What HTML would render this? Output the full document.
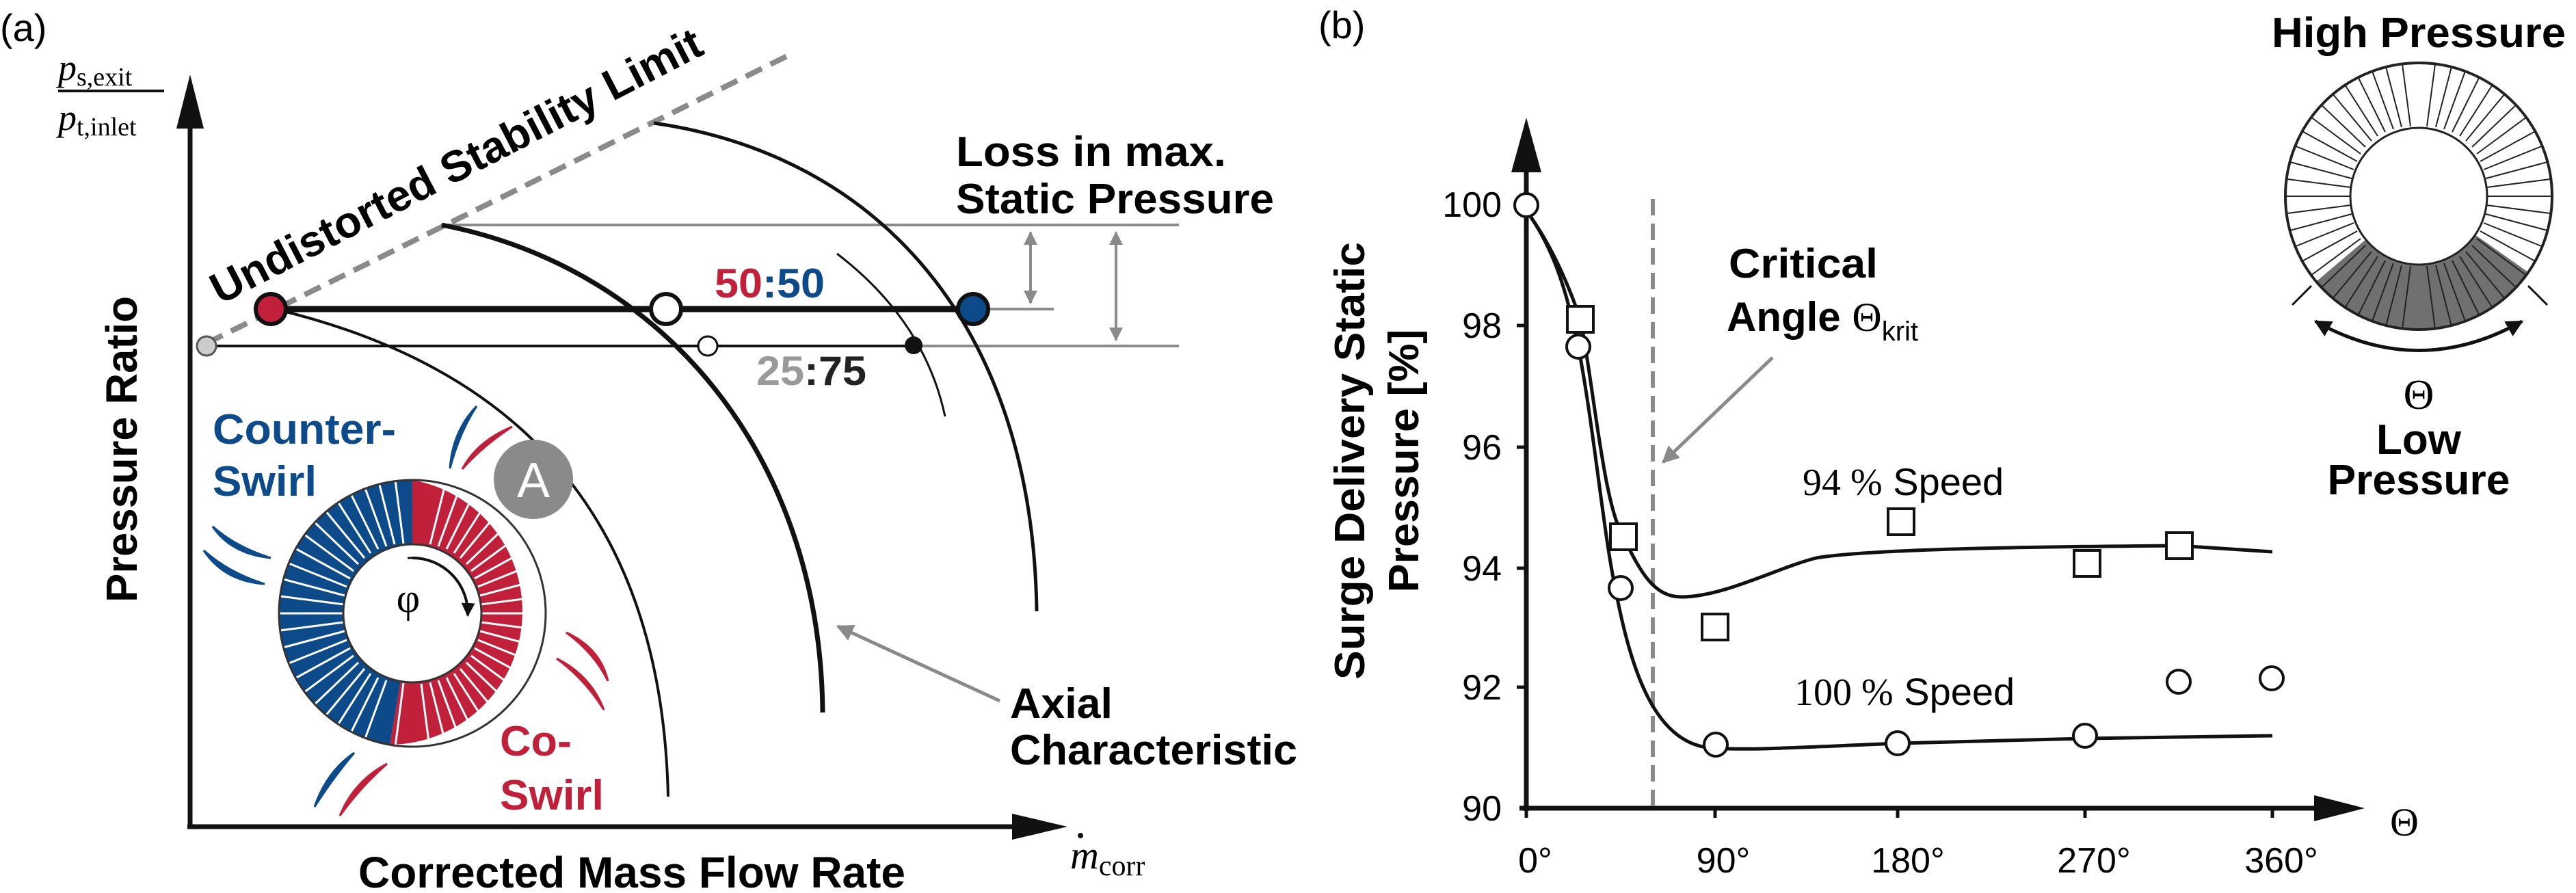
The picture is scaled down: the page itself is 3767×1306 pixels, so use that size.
<!DOCTYPE html>
<html><head><meta charset="utf-8"><style>
html,body{margin:0;padding:0;background:#fff;}
svg{display:block;}
.b{font-family:"Liberation Sans",sans-serif;font-weight:bold;}
.s{font-family:"Liberation Serif",serif;}
.n{font-family:"Liberation Sans",sans-serif;}
</style></head><body>
<svg width="3767" height="1306" viewBox="0 0 3767 1306" xmlns="http://www.w3.org/2000/svg">
<defs>
<marker id="ga" viewBox="0 0 10 10" refX="9" refY="5" markerWidth="5" markerHeight="5" orient="auto-start-reverse"><path d="M0,0L10,5L0,10z" fill="#8a8a8a"/></marker>
<marker id="ka" viewBox="0 0 10 10" refX="9" refY="5" markerWidth="5" markerHeight="5" orient="auto-start-reverse"><path d="M0,0L10,5L0,10z" fill="#111"/></marker>
<clipPath id="cb"><circle cx="3549" cy="287" r="194"/></clipPath>
<clipPath id="ca"><circle cx="603" cy="897" r="194"/></clipPath>
</defs>
<!-- ============ PANEL A ============ -->
<text x="0" y="60" class="n" font-size="56">(a)</text>
<text x="85" y="117" class="s" font-size="54" font-style="italic">p<tspan font-size="38" font-style="normal" dy="8">s,exit</tspan></text>
<line x1="85" y1="133" x2="240" y2="133" stroke="#111" stroke-width="4"/>
<text x="85" y="190" class="s" font-size="54" font-style="italic">p<tspan font-size="38" font-style="normal" dy="8">t,inlet</tspan></text>
<line x1="278" y1="1211" x2="278" y2="180" stroke="#111" stroke-width="7"/>
<path d="M278,109 L258,188 L298,188z" fill="#111"/>
<line x1="274" y1="1209" x2="1490" y2="1209" stroke="#111" stroke-width="7"/>
<path d="M1561,1209 L1480,1190 L1480,1228z" fill="#111"/>
<text x="1565" y="1270" class="s" font-size="58" font-style="italic">m<tspan font-size="42" font-style="normal" dy="10">corr</tspan></text>
<circle cx="1580" cy="1222" r="4" fill="#111"/>
<text transform="translate(200,657) rotate(-90)" text-anchor="middle" class="b" font-size="64" textLength="448" lengthAdjust="spacingAndGlyphs">Pressure Ratio</text>
<text x="524" y="1298" class="b" font-size="64" textLength="800" lengthAdjust="spacingAndGlyphs">Corrected Mass Flow Rate</text>
<line x1="302" y1="502" x2="1155" y2="80" stroke="#8a8a8a" stroke-width="8" stroke-dasharray="26 14"/>
<text transform="translate(322,446) rotate(-27.4)" class="b" font-size="64" textLength="800" lengthAdjust="spacingAndGlyphs">Undistorted Stability Limit</text>
<line x1="646" y1="329" x2="1724" y2="329" stroke="#8a8a8a" stroke-width="4"/>
<line x1="1423" y1="452" x2="1541" y2="452" stroke="#8a8a8a" stroke-width="4"/>
<line x1="302" y1="506" x2="1340" y2="506" stroke="#111" stroke-width="4"/>
<line x1="1340" y1="506" x2="1724" y2="506" stroke="#8a8a8a" stroke-width="4"/>
<line x1="1507" y1="340" x2="1507" y2="443" stroke="#8a8a8a" stroke-width="4" marker-start="url(#ga)" marker-end="url(#ga)"/>
<line x1="1632" y1="340" x2="1632" y2="497" stroke="#8a8a8a" stroke-width="4" marker-start="url(#ga)" marker-end="url(#ga)"/>
<path d="M956,180 C1279,226 1510,469 1516,894" fill="none" stroke="#111" stroke-width="5"/>
<path d="M646,329 C974,393 1200,670 1203,1042" fill="none" stroke="#111" stroke-width="7"/>
<path d="M402,452 C755,536 968,753 977,1165" fill="none" stroke="#111" stroke-width="4"/>
<path d="M1224,371 Q1352,469 1382,609" fill="none" stroke="#111" stroke-width="3"/>
<line x1="396" y1="452" x2="1423" y2="452" stroke="#111" stroke-width="9"/>
<circle cx="396" cy="452" r="22" fill="#c1203a" stroke="#111" stroke-width="6"/>
<circle cx="974" cy="452" r="22" fill="#fff" stroke="#111" stroke-width="6"/>
<circle cx="1423" cy="452" r="22" fill="#0c4a8a" stroke="#111" stroke-width="6"/>
<circle cx="302" cy="506" r="14" fill="#ccc" stroke="#555" stroke-width="3"/>
<circle cx="1035" cy="506" r="14" fill="#fff" stroke="#111" stroke-width="3"/>
<circle cx="1336" cy="505" r="13" fill="#111"/>
<text x="1398" y="243" class="b" font-size="62" textLength="395" lengthAdjust="spacingAndGlyphs">Loss in max.</text>
<text x="1398" y="312" class="b" font-size="62" textLength="465" lengthAdjust="spacingAndGlyphs">Static Pressure</text>
<text x="1045" y="435" class="b" font-size="60" textLength="161" lengthAdjust="spacingAndGlyphs"><tspan fill="#c1203a">50</tspan><tspan fill="#0c4a8a">:50</tspan></text>
<text x="1106" y="563" class="b" font-size="60" textLength="161" lengthAdjust="spacingAndGlyphs"><tspan fill="#999">25</tspan><tspan fill="#222">:75</tspan></text>
<text x="311" y="649" class="b" font-size="62" fill="#0c4a8a" textLength="268" lengthAdjust="spacingAndGlyphs">Counter-</text>
<text x="311" y="725" class="b" font-size="62" fill="#0c4a8a" textLength="152" lengthAdjust="spacingAndGlyphs">Swirl</text>
<text x="731" y="1105" class="b" font-size="62" fill="#c1203a" textLength="105" lengthAdjust="spacingAndGlyphs">Co-</text>
<text x="731" y="1184" class="b" font-size="62" fill="#c1203a" textLength="152" lengthAdjust="spacingAndGlyphs">Swirl</text>
<circle cx="780" cy="701" r="58" fill="#8a8a8a"/>
<text x="780" y="727" text-anchor="middle" class="n" font-size="72" fill="#fff">A</text>
<text x="1477" y="1050" class="b" font-size="62" textLength="150" lengthAdjust="spacingAndGlyphs">Axial</text>
<text x="1477" y="1118" class="b" font-size="62" textLength="420" lengthAdjust="spacingAndGlyphs">Characteristic</text>
<line x1="1462" y1="1025" x2="1225" y2="916" stroke="#8a8a8a" stroke-width="5" marker-end="url(#ga)"/>
<!-- ring A -->
<path d="M603,702 A195,195 0 0 0 570,1089 L586,996 A101,101 0 0 1 603,796z" fill="#0c4a8a"/>
<path d="M603,702 A195,195 0 0 1 570,1089 L586,996 A101,101 0 0 0 603,796z" fill="#c1203a"/>
<g stroke="#fff" stroke-width="3" clip-path="url(#ca)">
<line x1="704" y1="897" x2="798" y2="897"/><line x1="703" y1="910" x2="796" y2="922"/><line x1="702" y1="923" x2="792" y2="947"/><line x1="699" y1="936" x2="786" y2="971"/><line x1="694" y1="948" x2="778" y2="994"/><line x1="689" y1="959" x2="766" y2="1016"/><line x1="682" y1="969" x2="752" y2="1036"/><line x1="673" y1="978" x2="735" y2="1053"/><line x1="664" y1="985" x2="717" y2="1068"/><line x1="653" y1="991" x2="697" y2="1080"/><line x1="641" y1="995" x2="675" y2="1088"/><line x1="629" y1="998" x2="653" y2="1093"/><line x1="616" y1="1000" x2="628" y2="1092"/>
<line x1="502" y1="897" x2="408" y2="897"/><line x1="503" y1="884" x2="410" y2="872"/><line x1="504" y1="871" x2="414" y2="847"/><line x1="507" y1="858" x2="420" y2="823"/><line x1="512" y1="846" x2="428" y2="800"/><line x1="517" y1="835" x2="440" y2="778"/><line x1="524" y1="825" x2="454" y2="758"/><line x1="533" y1="816" x2="471" y2="741"/><line x1="542" y1="809" x2="489" y2="726"/><line x1="553" y1="803" x2="509" y2="714"/><line x1="565" y1="799" x2="531" y2="706"/><line x1="577" y1="796" x2="553" y2="701"/><line x1="590" y1="795" x2="578" y2="702"/>
<line x1="503" y1="910" x2="410" y2="922"/><line x1="504" y1="923" x2="414" y2="947"/><line x1="507" y1="936" x2="420" y2="971"/><line x1="512" y1="948" x2="428" y2="994"/><line x1="517" y1="959" x2="440" y2="1016"/><line x1="524" y1="969" x2="454" y2="1036"/><line x1="533" y1="978" x2="471" y2="1053"/><line x1="542" y1="985" x2="489" y2="1068"/><line x1="553" y1="991" x2="509" y2="1080"/><line x1="565" y1="995" x2="531" y2="1088"/><line x1="590" y1="999" x2="578" y2="1092"/>
<line x1="703" y1="884" x2="796" y2="872"/><line x1="702" y1="871" x2="792" y2="847"/><line x1="699" y1="858" x2="786" y2="823"/><line x1="694" y1="846" x2="778" y2="800"/><line x1="689" y1="835" x2="766" y2="778"/><line x1="682" y1="825" x2="752" y2="758"/><line x1="673" y1="816" x2="735" y2="741"/><line x1="664" y1="809" x2="717" y2="726"/><line x1="653" y1="803" x2="697" y2="714"/><line x1="641" y1="799" x2="675" y2="706"/><line x1="629" y1="796" x2="653" y2="701"/>
</g>
<circle cx="603" cy="897" r="195" fill="none" stroke="#333" stroke-width="3"/>
<circle cx="603" cy="897" r="101" fill="#fff" stroke="#333" stroke-width="3"/>
<text x="597" y="895" text-anchor="middle" class="s" font-size="60">φ</text>
<line x1="596" y1="816" x2="612" y2="816" stroke="#111" stroke-width="3"/>
<path d="M603,816 A81,81 0 0 1 684,900" fill="none" stroke="#111" stroke-width="4" marker-end="url(#ka)"/>
<g>
<path d="M697,594 Q662,630 658,685 Q672,632 697,594z" fill="#0c4a8a" stroke="#0c4a8a" stroke-width="3"/>
<path d="M749,624 Q698,645 676,686 Q706,652 749,624z" fill="#c1203a" stroke="#c1203a" stroke-width="3"/>
<path d="M311,770 Q338,810 396,816 Q345,800 311,770z" fill="#0c4a8a" stroke="#0c4a8a" stroke-width="3"/>
<path d="M298,805 Q328,850 387,854 Q335,838 298,805z" fill="#0c4a8a" stroke="#0c4a8a" stroke-width="3"/>
<path d="M828,925 Q878,948 889,996 Q870,956 828,925z" fill="#c1203a" stroke="#c1203a" stroke-width="3"/>
<path d="M814,963 Q864,988 883,1038 Q856,994 814,963z" fill="#c1203a" stroke="#c1203a" stroke-width="3"/>
<path d="M518,1101 Q478,1128 460,1180 Q488,1136 518,1101z" fill="#0c4a8a" stroke="#0c4a8a" stroke-width="3"/>
<path d="M566,1117 Q518,1142 497,1193 Q528,1150 566,1117z" fill="#c1203a" stroke="#c1203a" stroke-width="3"/>
</g>
<!-- ============ PANEL B ============ -->
<text x="1928" y="56" class="n" font-size="56">(b)</text>
<line x1="2232" y1="1186" x2="2232" y2="240" stroke="#111" stroke-width="7"/>
<path d="M2232,172 L2210,252 L2254,252z" fill="#111"/>
<line x1="2222" y1="1182" x2="3390" y2="1182" stroke="#111" stroke-width="7"/>
<path d="M3458,1182 L3384,1163 L3384,1201z" fill="#111"/>
<g stroke="#111" stroke-width="5">
<line x1="2218" y1="299" x2="2232" y2="299"/><line x1="2218" y1="476" x2="2232" y2="476"/><line x1="2218" y1="654" x2="2232" y2="654"/><line x1="2218" y1="831" x2="2232" y2="831"/><line x1="2218" y1="1005" x2="2232" y2="1005"/>
<line x1="2232" y1="1182" x2="2232" y2="1196"/><line x1="2508" y1="1182" x2="2508" y2="1196"/><line x1="2775" y1="1182" x2="2775" y2="1196"/><line x1="3049" y1="1182" x2="3049" y2="1196"/><line x1="3323" y1="1182" x2="3323" y2="1196"/>
</g>
<g class="n" font-size="52" text-anchor="end">
<text x="2196" y="317">100</text><text x="2196" y="494">98</text><text x="2196" y="672">96</text><text x="2196" y="849">94</text><text x="2196" y="1023">92</text><text x="2196" y="1200">90</text>
</g>
<g class="n" font-size="52" text-anchor="middle">
<text x="2245" y="1276">0°</text><text x="2520" y="1276">90°</text><text x="2790" y="1276">180°</text><text x="3062" y="1276">270°</text><text x="3336" y="1276">360°</text>
</g>
<text x="3516" y="1222" text-anchor="middle" class="s" font-size="58">Θ</text>
<text transform="translate(1995,674) rotate(-90)" text-anchor="middle" class="b" font-size="62" textLength="640" lengthAdjust="spacingAndGlyphs">Surge Delivery Static</text>
<text transform="translate(2074,674) rotate(-90)" text-anchor="middle" class="b" font-size="62" textLength="385" lengthAdjust="spacingAndGlyphs">Pressure [%]</text>
<line x1="2417" y1="291" x2="2417" y2="1182" stroke="#8a8a8a" stroke-width="6" stroke-dasharray="24 12"/>
<text x="2528" y="406" class="b" font-size="60" textLength="218" lengthAdjust="spacingAndGlyphs">Critical</text>
<text x="2525" y="484" class="b" font-size="60">Angle <tspan class="s" font-weight="normal">Θ</tspan><tspan class="n" font-weight="normal" font-size="40" dy="14">krit</tspan></text>
<line x1="2592" y1="523" x2="2432" y2="676" stroke="#8a8a8a" stroke-width="5" marker-end="url(#ga)"/>
<text x="2636" y="724" font-size="56"><tspan class="s">94 %</tspan><tspan class="n"> Speed</tspan></text>
<text x="2624" y="1031" font-size="56"><tspan class="s">100 %</tspan><tspan class="n"> Speed</tspan></text>
<path d="M2232,308 C2270,360 2295,420 2311,467 C2330,560 2345,740 2374,785 C2400,840 2420,873 2459,873 C2520,873 2600,830 2656,816 C2720,805 2900,800 3186,798 L3323,807" fill="none" stroke="#111" stroke-width="5"/>
<path d="M2232,308 C2270,360 2290,420 2308,507 C2330,620 2345,780 2362,860 C2385,980 2420,1090 2505,1094 C2560,1098 2650,1092 2777,1087 L3050,1080 L3323,1076" fill="none" stroke="#111" stroke-width="5"/>
<g fill="#fff" stroke="#111" stroke-width="4">
<rect x="2292" y="448" width="38" height="38"/><rect x="2355" y="766" width="38" height="38"/><rect x="2489" y="898" width="38" height="38"/><rect x="2761" y="744" width="38" height="38"/><rect x="3033" y="805" width="38" height="38"/><rect x="3168" y="779" width="38" height="38"/>
<circle cx="2232" cy="300" r="17"/><circle cx="2308" cy="507" r="17"/><circle cx="2370" cy="860" r="17"/><circle cx="2509" cy="1089" r="17"/><circle cx="2775" cy="1087" r="17"/><circle cx="3049" cy="1076" r="17"/><circle cx="3186" cy="997" r="17"/><circle cx="3322" cy="992" r="17"/>
</g>
<!-- ring B -->
<g transform="translate(-12,0)">
<path d="M3709,398 A195,195 0 0 1 3400,411 L3472,350 A100,100 0 0 0 3631,343z" fill="#707070"/>
<g stroke="#222" stroke-width="2" clip-path="url(#cb)">
<line x1="3649" y1="287" x2="3743" y2="287"/><line x1="3648" y1="274" x2="3741" y2="262"/><line x1="3647" y1="261" x2="3737" y2="237"/><line x1="3644" y1="248" x2="3731" y2="213"/><line x1="3639" y1="236" x2="3723" y2="190"/><line x1="3634" y1="225" x2="3711" y2="168"/><line x1="3627" y1="215" x2="3697" y2="148"/><line x1="3618" y1="206" x2="3680" y2="131"/><line x1="3609" y1="199" x2="3662" y2="116"/><line x1="3598" y1="193" x2="3642" y2="104"/><line x1="3586" y1="189" x2="3620" y2="96"/><line x1="3574" y1="186" x2="3598" y2="94"/><line x1="3561" y1="185" x2="3573" y2="94"/>
<line x1="3449" y1="287" x2="3355" y2="287"/><line x1="3450" y1="274" x2="3357" y2="262"/><line x1="3451" y1="261" x2="3361" y2="237"/><line x1="3454" y1="248" x2="3367" y2="213"/><line x1="3459" y1="236" x2="3375" y2="190"/><line x1="3464" y1="225" x2="3387" y2="168"/><line x1="3471" y1="215" x2="3401" y2="148"/><line x1="3480" y1="206" x2="3418" y2="131"/><line x1="3489" y1="199" x2="3436" y2="116"/><line x1="3500" y1="193" x2="3456" y2="104"/><line x1="3512" y1="189" x2="3478" y2="96"/><line x1="3524" y1="186" x2="3500" y2="94"/><line x1="3537" y1="185" x2="3525" y2="94"/>
<line x1="3648" y1="300" x2="3741" y2="312"/><line x1="3647" y1="313" x2="3737" y2="337"/><line x1="3644" y1="326" x2="3731" y2="361"/><line x1="3639" y1="338" x2="3723" y2="384"/><line x1="3634" y1="349" x2="3711" y2="406"/><line x1="3627" y1="359" x2="3697" y2="426"/><line x1="3618" y1="368" x2="3680" y2="443"/><line x1="3609" y1="375" x2="3662" y2="458"/><line x1="3598" y1="381" x2="3642" y2="470"/><line x1="3586" y1="385" x2="3620" y2="478"/><line x1="3574" y1="388" x2="3598" y2="481"/><line x1="3561" y1="389" x2="3573" y2="481"/>
<line x1="3450" y1="300" x2="3357" y2="312"/><line x1="3451" y1="313" x2="3361" y2="337"/><line x1="3454" y1="326" x2="3367" y2="361"/><line x1="3459" y1="338" x2="3375" y2="384"/><line x1="3464" y1="349" x2="3387" y2="406"/><line x1="3471" y1="359" x2="3401" y2="426"/><line x1="3480" y1="368" x2="3418" y2="443"/><line x1="3489" y1="375" x2="3436" y2="458"/><line x1="3500" y1="381" x2="3456" y2="470"/><line x1="3512" y1="385" x2="3478" y2="478"/><line x1="3524" y1="388" x2="3500" y2="481"/><line x1="3537" y1="389" x2="3525" y2="481"/>
</g>
<circle cx="3549" cy="287" r="195" fill="none" stroke="#222" stroke-width="4"/>
<circle cx="3549" cy="287" r="100" fill="#fff" stroke="#222" stroke-width="3"/>
<path d="M3398,470 Q3549,555 3700,470" fill="none" stroke="#111" stroke-width="5" marker-start="url(#ka)" marker-end="url(#ka)"/>
<line x1="3364" y1="446" x2="3392" y2="418" stroke="#111" stroke-width="3"/>
<line x1="3737" y1="446" x2="3709" y2="418" stroke="#111" stroke-width="3"/>
<text x="3549" y="69" text-anchor="middle" class="b" font-size="62" textLength="430" lengthAdjust="spacingAndGlyphs">High Pressure</text>
<text x="3549" y="598" text-anchor="middle" class="s" font-size="62">Θ</text>
<text x="3549" y="664" text-anchor="middle" class="b" font-size="62">Low</text>
<text x="3549" y="723" text-anchor="middle" class="b" font-size="62" textLength="267" lengthAdjust="spacingAndGlyphs">Pressure</text>
</g>
</svg>
</body></html>
